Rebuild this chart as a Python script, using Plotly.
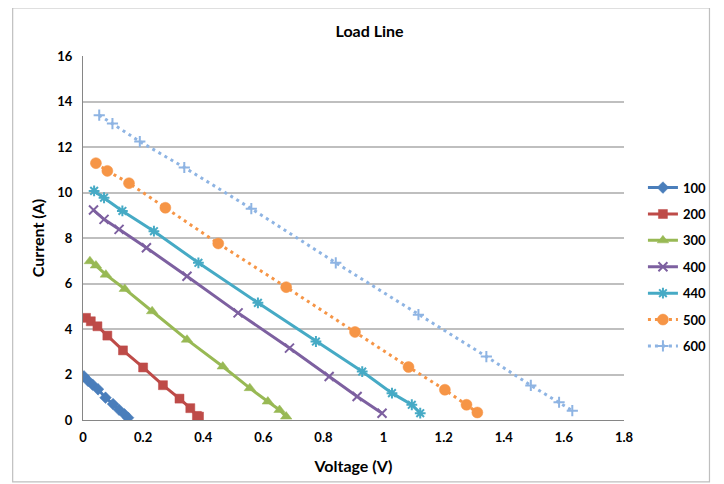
import plotly.graph_objects as go

# Data
v100 = [0.003, 0.017, 0.032, 0.05, 0.075, 0.1, 0.12, 0.138, 0.15]
i100 = [1.92, 1.72, 1.55, 1.35, 0.98, 0.7, 0.45, 0.25, 0.1]

v200 = [0.01, 0.026, 0.048, 0.081, 0.133, 0.2, 0.266, 0.321, 0.357, 0.379, 0.386]
i200 = [4.49, 4.34, 4.12, 3.71, 3.06, 2.31, 1.53, 0.94, 0.52, 0.18, 0.15]

v300 = [0.023, 0.043, 0.076, 0.139, 0.23, 0.346, 0.465, 0.555, 0.615, 0.654, 0.676]
i300 = [6.98, 6.79, 6.39, 5.76, 4.78, 3.53, 2.35, 1.4, 0.81, 0.44, 0.15]

v400 = [0.035, 0.07, 0.12, 0.211, 0.346, 0.516, 0.687, 0.819, 0.912, 0.995]
i400 = [9.23, 8.82, 8.38, 7.57, 6.32, 4.71, 3.16, 1.91, 1.03, 0.3]

v440 = [0.037, 0.07, 0.131, 0.236, 0.384, 0.582, 0.775, 0.929, 1.028, 1.094, 1.122]
i440 = [10.07, 9.77, 9.19, 8.3, 6.91, 5.15, 3.45, 2.13, 1.18, 0.67, 0.3]

v500 = [0.043, 0.081, 0.153, 0.274, 0.45, 0.676, 0.905, 1.083, 1.204, 1.276, 1.312]
i500 = [11.29, 10.95, 10.41, 9.33, 7.76, 5.84, 3.87, 2.33, 1.33, 0.67, 0.33]

v600 = [0.054, 0.098, 0.189, 0.337, 0.56, 0.841, 1.116, 1.342, 1.49, 1.584, 1.628]
i600 = [13.4, 13.03, 12.24, 11.1, 9.29, 6.91, 4.63, 2.79, 1.52, 0.78, 0.41]

x_ticks = [0, 0.2, 0.4, 0.6, 0.8, 1, 1.2, 1.4, 1.6, 1.8]
x_tick_text = ["0", "0.2", "0.4", "0.6", "0.8", "1", "1.2", "1.4", "1.6", "1.8"]
y_ticks = [0, 2, 4, 6, 8, 10, 12, 14, 16]
y_tick_text = ["0", "2", "4", "6", "8", "10", "12", "14", "16"]

series = [
    ("100", v100, i100, "#4a7ebb", "diamond", 9, "solid"),
    ("200", v200, i200, "#be4b48", "square", 9, "solid"),
    ("300", v300, i300, "#98b954", "triangle-up", 10, "solid"),
    ("400", v400, i400, "#7d60a0", "x-thin-open", 9, "solid"),
    ("440", v440, i440, "#46aac5", "asterisk-open", 9, "solid"),
    ("500", v500, i500, "#f69546", "circle", 11, "3px,4px"),
    ("600", v600, i600, "#8eb4e3", "cross-thin-open", 8, "3px,4px"),
]

fig = go.Figure()
for name, xs, ys, col, sym, sz, dash in series:
    open_sym = sym.endswith("-open")
    fig.add_trace(go.Scatter(
        x=xs, y=ys, name="<b>" + name + "</b>", mode="lines+markers",
        legendgroup=name,
        line=dict(color=col, width=3, dash=dash),
        marker=dict(symbol=sym, size=sz, color=col,
                    line=dict(color=col, width=2 if open_sym else 0.5)),
    ))

font_family = "Lato, 'Open Sans', sans-serif"
W, H = 716, 476  # page body has an 8px margin
fig.update_layout(
    width=W, height=H,
    margin=dict(l=75, r=98, t=48, b=64),
    paper_bgcolor="white", plot_bgcolor="white",
    font=dict(family=font_family, color="#000000"),
    title=dict(text="<b>Load Line</b>", x=0.505, xanchor="center",
               y=1 - 23 / H, yanchor="middle", automargin=False,
               font=dict(size=16, family=font_family, color="#000")),
    showlegend=True,
    legend=dict(x=1.035, y=0.42, xanchor="left", yanchor="middle",
                font=dict(size=13, family=font_family, color="#000"),
                itemwidth=30, tracegroupgap=6.5, bgcolor="rgba(0,0,0,0)"),
    xaxis=dict(range=[0, 1.8], tickvals=x_ticks,
               ticktext=["<b>" + t + "</b>" for t in x_tick_text],
               showgrid=False, zeroline=False, showline=True, automargin=False,
               linecolor="#868686", linewidth=1, ticks="", ticklabelstandoff=5,
               tickfont=dict(size=13, family=font_family, color="#000"),
               title=dict(text="<b>Voltage (V)</b>", standoff=17,
                          font=dict(size=16, family=font_family, color="#000"))),
    yaxis=dict(range=[0, 16], tickvals=y_ticks,
               ticktext=["<b>" + t + "</b>" for t in y_tick_text],
               showgrid=True, gridcolor="#bfbfbf", gridwidth=1.5,
               zeroline=False, showline=True, automargin=False,
               linecolor="#868686", linewidth=1, ticks="", ticklabelstandoff=7,
               tickfont=dict(size=13, family=font_family, color="#000"),
               title=dict(text="<b>Current (A)</b>", standoff=8,
                          font=dict(size=16, family=font_family, color="#000"))),
    shapes=[dict(type="rect", xref="paper", yref="paper",
                 x0=-0.13, x1=1.158, y0=-0.17, y1=1.132,
                 line=dict(color="#bfbfbf", width=1.2), fillcolor="rgba(0,0,0,0)",
                 layer="below")],
)

fig.write_html("out.html")
